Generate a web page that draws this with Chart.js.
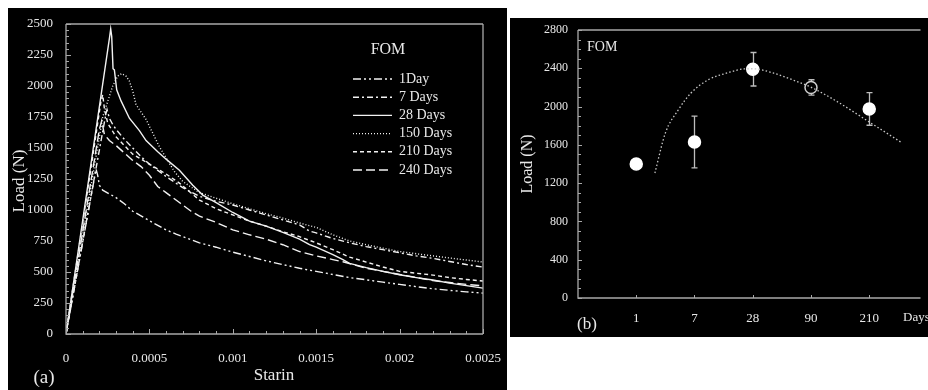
<!DOCTYPE html>
<html><head><meta charset="utf-8">
<script src="https://cdn.jsdelivr.net/npm/chart.js@4.4.1/dist/chart.umd.min.js"></script>
<style>
html,body{margin:0;padding:0;background:#fff;width:928px;height:390px;overflow:hidden;}
.panel{position:absolute;background:#000;}
#pa{left:8px;top:8px;width:499px;height:382px;}
#pb{left:510px;top:18px;width:418px;height:319px;}
canvas{display:block;}
</style></head><body>
<div class="panel" id="pa"><canvas id="ca" width="499" height="382"></canvas></div>
<div class="panel" id="pb"><canvas id="cb" width="418" height="319"></canvas></div>
<script>
// ---------- Panel (a) data: [strain, load (N)] ----------
const strainTicks = [0, 0.0005, 0.001, 0.0015, 0.002, 0.0025];
const strainTickLabels = ['0', '0.0005', '0.001', '0.0015', '0.002', '0.0025'];
const loadTicksA = [0, 250, 500, 750, 1000, 1250, 1500, 1750, 2000, 2250, 2500];
const curingLabels = ['1Day', '7 Days', '28 Days', '150 Days', '210 Days', '240 Days'];

const day1 = [[0,0],[0.00018,1330],[0.00019,1280],[0.0002,1200],[0.00022,1160],[0.00026,1130],[0.0003,1100],[0.00035,1050],[0.0004,990],[0.00046,945],[0.00053,890],[0.0006,840],[0.00066,805],[0.00072,775],[0.0008,735],[0.0009,700],[0.001,660],[0.0011,625],[0.0012,590],[0.0013,560],[0.0014,530],[0.0015,505],[0.0016,480],[0.0017,455],[0.0018,437],[0.0019,418],[0.002,400],[0.0021,382],[0.0022,365],[0.0023,352],[0.0024,340],[0.0025,330]];
const day7 = [[0,0],[0.00024,1780],[0.000246,1810],[0.00026,1740],[0.00028,1690],[0.0003,1650],[0.00035,1570],[0.0004,1500],[0.00045,1430],[0.0005,1370],[0.0006,1270],[0.0007,1180],[0.0008,1110],[0.0009,1070],[0.001,1040],[0.0011,1000],[0.0012,960],[0.0013,920],[0.0014,880],[0.00146,830],[0.0015,815],[0.0016,770],[0.0017,735],[0.0018,705],[0.0019,680],[0.002,655],[0.0021,630],[0.0022,610],[0.0023,585],[0.0024,560],[0.0025,540]];
const day28 = [[0,0],[0.000262,2400],[0.000268,2460],[0.000274,2400],[0.000282,2140],[0.00029,2130],[0.000304,1970],[0.00033,1880],[0.00038,1740],[0.00044,1640],[0.00048,1560],[0.00055,1470],[0.0006,1410],[0.00068,1320],[0.00076,1200],[0.00082,1120],[0.0009,1060],[0.001,980],[0.0011,910],[0.0012,870],[0.0013,820],[0.0014,765],[0.00146,720],[0.0015,700],[0.0016,640],[0.00166,600],[0.0017,570],[0.0018,535],[0.0019,505],[0.002,478],[0.0021,455],[0.0022,435],[0.0023,410],[0.0024,390],[0.0025,370]];
const day150 = [[0,0],[0.00022,1750],[0.00028,2000],[0.00031,2080],[0.000334,2100],[0.00036,2080],[0.00038,2040],[0.0004,1960],[0.00042,1850],[0.00045,1790],[0.00048,1730],[0.00052,1620],[0.00056,1510],[0.0006,1420],[0.00065,1310],[0.0007,1230],[0.0008,1140],[0.0009,1095],[0.001,1050],[0.0011,1010],[0.0012,970],[0.0013,935],[0.0014,895],[0.0015,860],[0.0016,800],[0.0017,750],[0.0018,720],[0.002,665],[0.0022,630],[0.0025,580]];
const day210 = [[0,0],[0.00021,1880],[0.00022,1930],[0.00023,1820],[0.00025,1700],[0.0003,1590],[0.00035,1520],[0.0004,1450],[0.00045,1410],[0.0005,1370],[0.0006,1290],[0.00068,1217],[0.0008,1080],[0.0009,1010],[0.001,960],[0.0011,910],[0.0012,870],[0.0013,825],[0.0014,785],[0.0015,735],[0.0016,680],[0.0017,620],[0.0018,580],[0.0019,540],[0.002,505],[0.0021,490],[0.0022,475],[0.0023,455],[0.0024,440],[0.0025,427]];
const day240 = [[0,0],[0.0002,1650],[0.000214,1720],[0.00023,1610],[0.00026,1560],[0.0003,1520],[0.00035,1460],[0.0004,1400],[0.00045,1350],[0.0005,1280],[0.00055,1190],[0.0006,1140],[0.00064,1100],[0.000684,1056],[0.00075,990],[0.0008,950],[0.0009,900],[0.001,840],[0.0011,800],[0.0012,765],[0.0013,720],[0.0014,665],[0.0015,630],[0.0016,600],[0.00166,583],[0.0018,530],[0.0019,505],[0.002,480],[0.0021,455],[0.0022,430],[0.0023,415],[0.0024,400],[0.0025,388]];

// ---------- Panel (b) data ----------
const agePositions = [1, 2, 3, 4, 5];
const ageLabels = ['1', '7', '28', '90', '210'];
const meanLoad = [1400, 1630, 2390, 2200, 1975];
const errLoad = [35, 270, 175, 80, 170];
const fitPos = [1.32, 1.5, 1.72, 1.94, 2.23, 2.56, 2.85, 3.0, 3.35, 3.69, 3.99, 4.46, 5.0, 5.54];
const fitLoad = [1306, 1724, 1964, 2142, 2278, 2351, 2393, 2395, 2351, 2278, 2205, 2048, 1839, 1630];
const loadTicksB = [0, 400, 800, 1200, 1600, 2000, 2400, 2800];

// ---------- styling ----------
const SERIF = "'Liberation Serif', 'DejaVu Serif', serif";
const TXT = '#e8e8e8';
const AX = '#a8a8a8';
const LINE = '#f2f2f2';
Chart.defaults.font.family = SERIF;
Chart.defaults.color = TXT;
const dashes = [[8,3,2,3,2,3],[6,3,2,3],[],[1,2],[4,3],[9,4]];

const framePlugin = {
  id: 'frame',
  afterDraw(chart, args, o) {
    const {ctx, chartArea: a, scales: {x, y}} = chart;
    ctx.save();
    ctx.strokeStyle = o.color; ctx.lineWidth = 1.3;
    ctx.beginPath();
    ctx.moveTo(a.left, a.top); ctx.lineTo(a.left, a.bottom); ctx.lineTo(a.right, a.bottom);
    ctx.moveTo(a.left, a.top); ctx.lineTo(a.right, a.top);
    if (o.right) { ctx.moveTo(a.right, a.top); ctx.lineTo(a.right, a.bottom); }
    ctx.stroke();
    ctx.lineWidth = 1;
    ctx.beginPath();
    const n = Math.round((y.max - y.min) / o.yMinor);
    for (let i = 0; i <= n; i++) {
      const v = y.min + i * o.yMinor;
      const p = Math.round(y.getPixelForValue(v)) + 0.5;
      const len = (i % o.yPer === 0) ? o.majorLen : o.minorLen;
      ctx.moveTo(a.left, p); ctx.lineTo(a.left + len, p);
    }
    for (let i = 0; i < o.xTicks.length; i++) {
      const v = o.xTicks[i];
      const p = Math.round(x.getPixelForValue(v)) + 0.5;
      const len = (o.xMajorEvery && i % o.xMajorEvery === 0) ? o.majorLen : o.minorLen;
      ctx.moveTo(p, a.bottom); ctx.lineTo(p, a.bottom - len);
    }
    ctx.stroke();
    ctx.restore();
  }
};

const textPlugin = {
  id: 'texts',
  afterDraw(chart, args, o) {
    const ctx = chart.ctx;
    ctx.save();
    ctx.fillStyle = TXT;
    for (const t of o.items) {
      ctx.save();
      ctx.font = t.size + 'px ' + SERIF;
      ctx.textAlign = t.align || 'center';
      ctx.textBaseline = 'middle';
      ctx.translate(t.x, t.y);
      if (t.rot) ctx.rotate(t.rot);
      ctx.fillText(t.text, 0, 0);
      ctx.restore();
    }
    ctx.restore();
  }
};

const legendPlugin = {
  id: 'lineLegend',
  afterDraw(chart, args, o) {
    const ctx = chart.ctx;
    ctx.save();
    ctx.font = o.size + 'px ' + SERIF;
    ctx.textBaseline = 'middle';
    ctx.fillStyle = TXT;
    chart.data.datasets.forEach((ds, i) => {
      const y = o.y0 + i * o.dy;
      ctx.strokeStyle = ds.borderColor; ctx.lineWidth = ds.borderWidth;
      ctx.setLineDash(ds.borderDash || []);
      ctx.beginPath(); ctx.moveTo(o.x0, y); ctx.lineTo(o.x0 + o.w, y); ctx.stroke();
      ctx.setLineDash([]);
      ctx.fillText(ds.label, o.x0 + o.w + o.gap, y);
    });
    ctx.restore();
  }
};

const errorPlugin = {
  id: 'errBars',
  beforeDatasetsDraw(chart, args, o) {
    const {ctx, scales: {x, y}} = chart;
    ctx.save();
    ctx.strokeStyle = o.color; ctx.lineWidth = 1.3;
    ctx.beginPath();
    agePositions.forEach((p, i) => {
      const px = Math.round(x.getPixelForValue(p)) + 0.5;
      const yt = y.getPixelForValue(meanLoad[i] + errLoad[i]);
      const yb = y.getPixelForValue(meanLoad[i] - errLoad[i]);
      ctx.moveTo(px, yt); ctx.lineTo(px, yb);
      ctx.moveTo(px - o.cap, yt); ctx.lineTo(px + o.cap, yt);
      ctx.moveTo(px - o.cap, yb); ctx.lineTo(px + o.cap, yb);
    });
    ctx.stroke();
    ctx.restore();
  }
};

// ---------- Panel (a) ----------
const seriesA = [day1, day7, day28, day150, day210, day240];
new Chart(document.getElementById('ca'), {
  type: 'line',
  data: {
    datasets: seriesA.map((s, i) => ({
      label: curingLabels[i],
      data: s.map(([x, y]) => ({x, y})),
      borderColor: LINE, borderWidth: 1.4, borderDash: dashes[i],
      pointRadius: 0, tension: 0, fill: false
    }))
  },
  options: {
    responsive: false, animation: false, devicePixelRatio: 1,
    layout: {padding: {top: 16, right: 24, left: 0, bottom: 0}},
    plugins: {
      legend: {display: false}, tooltip: {enabled: false},
      frame: {color: AX, right: true, yMinor: 50, yPer: 5, majorLen: 5, minorLen: 3,
        xTicks: Array.from({length: 26}, (_, i) => i * 0.0001), xMajorEvery: 5},
      lineLegend: {x0: 345, y0: 71, dy: 18.2, w: 39, gap: 7, size: 14},
      texts: {items: [
        {text: 'Load (N)', x: 12, y: 173, size: 17, rot: -Math.PI / 2},
        {text: 'Starin', x: 266, y: 368, size: 17},
        {text: '(a)', x: 36, y: 370, size: 19},
        {text: 'FOM', x: 380, y: 42, size: 16}
      ]}
    },
    scales: {
      x: {
        type: 'linear', min: 0, max: 0.0025,
        afterBuildTicks: s => { s.ticks = strainTicks.map(v => ({value: v})); },
        afterFit: s => { s.height = 56; },
        grid: {display: false, drawTicks: true, tickLength: 15}, border: {display: false},
        ticks: {callback: (v, i) => strainTickLabels[i], font: {size: 13}, padding: 2, maxRotation: 0, color: TXT}
      },
      y: {
        type: 'linear', min: 0, max: 2500,
        afterBuildTicks: s => { s.ticks = loadTicksA.map(v => ({value: v})); },
        afterFit: s => { s.width = 58; },
        grid: {display: false, drawTicks: true, tickLength: 11}, border: {display: false},
        ticks: {callback: v => String(v), font: {size: 13}, padding: 2, color: TXT}
      }
    }
  },
  plugins: [framePlugin, legendPlugin, textPlugin]
});

// ---------- Panel (b) ----------
new Chart(document.getElementById('cb'), {
  type: 'line',
  data: {
    datasets: [
      {
        label: 'fit',
        data: fitPos.map((x, i) => ({x, y: fitLoad[i]})),
        borderColor: '#c8c8c8', borderWidth: 1.3, borderDash: [1.5, 2.2],
        pointRadius: 0, cubicInterpolationMode: 'monotone', fill: false
      },
      {
        label: 'FOM',
        data: agePositions.map((x, i) => ({x, y: meanLoad[i]})),
        showLine: false,
        pointRadius: 6, pointHoverRadius: 6,
        pointBackgroundColor: agePositions.map((_, i) => i === 3 ? '#000' : '#fff'),
        pointBorderColor: agePositions.map((_, i) => i === 3 ? '#cfcfcf' : '#fff'),
        pointBorderWidth: 1.5
      }
    ]
  },
  options: {
    responsive: false, animation: false, devicePixelRatio: 1,
    layout: {padding: {top: 12, right: 0, left: 0, bottom: 0}},
    plugins: {
      legend: {display: false}, tooltip: {enabled: false},
      errBars: {color: '#bdbdbd', cap: 3},
      frame: {color: AX, right: false, yMinor: 100, yPer: 4, majorLen: 4, minorLen: 3,
        xTicks: agePositions, xMajorEvery: 0},
      texts: {items: [
        {text: 'Load (N)', x: 18, y: 146, size: 16, rot: -Math.PI / 2},
        {text: 'FOM', x: 77, y: 29, size: 14, align: 'left'},
        {text: '(b)', x: 77, y: 307, size: 17},
        {text: 'Days', x: 393, y: 300, size: 13, align: 'left'}
      ]}
    },
    scales: {
      x: {
        type: 'linear', min: 0, max: 5.88,
        afterBuildTicks: s => { s.ticks = agePositions.map(v => ({value: v})); },
        afterFit: s => { s.height = 39; },
        grid: {display: false, drawTicks: true, tickLength: 11}, border: {display: false},
        ticks: {callback: (v, i) => ageLabels[i], font: {size: 13}, padding: 2, maxRotation: 0, color: TXT}
      },
      y: {
        type: 'linear', min: 0, max: 2800,
        afterBuildTicks: s => { s.ticks = loadTicksB.map(v => ({value: v})); },
        afterFit: s => { s.width = 68; },
        grid: {display: false, drawTicks: true, tickLength: 8}, border: {display: false},
        ticks: {callback: v => String(v), font: {size: 12}, padding: 2, color: TXT}
      }
    }
  },
  plugins: [errorPlugin, framePlugin, textPlugin]
});
</script>
</body></html>
